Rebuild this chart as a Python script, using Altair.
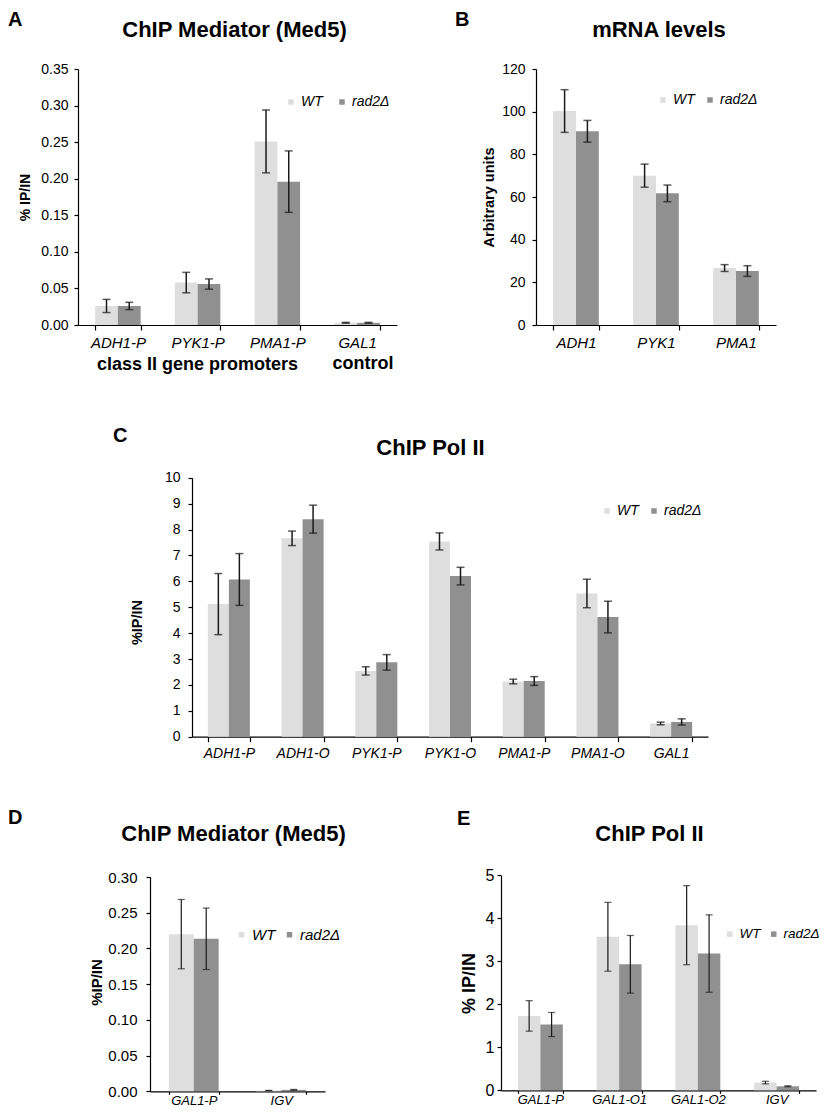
import altair as alt
import pandas as pd

FONT = "Liberation Sans"
GENOTYPES = ["WT", "rad2Δ"]
COLORS = ["#dedede", "#909090"]
INK = "#1a1a1a"

# ---------------- Panel A: ChIP Mediator (Med5) ----------------
a_cats = ["ADH1-P", "PYK1-P", "PMA1-P", "GAL1"]
a_wt = [0.026, 0.058, 0.251, 0.003]
a_wt_err = [0.009, 0.014, 0.043, 0.0006]
a_rad = [0.026, 0.056, 0.196, 0.003]
a_rad_err = [0.005, 0.007, 0.042, 0.0006]
a_ticks = [0.0, 0.05, 0.10, 0.15, 0.20, 0.25, 0.30, 0.35]

# ---------------- Panel B: mRNA levels ----------------
b_cats = ["ADH1", "PYK1", "PMA1"]
b_wt = [100.3, 70.0, 26.7]
b_wt_err = [10.0, 5.4, 1.6]
b_rad = [90.8, 61.7, 25.3]
b_rad_err = [5.1, 3.9, 2.5]
b_ticks = [0, 20, 40, 60, 80, 100, 120]

# ---------------- Panel C: ChIP Pol II ----------------
c_cats = ["ADH1-P", "ADH1-O", "PYK1-P", "PYK1-O", "PMA1-P", "PMA1-O", "GAL1"]
c_wt = [5.12, 7.66, 2.54, 7.54, 2.13, 5.53, 0.51]
c_wt_err = [1.18, 0.28, 0.16, 0.33, 0.09, 0.55, 0.05]
c_rad = [6.07, 8.40, 2.87, 6.20, 2.15, 4.62, 0.57]
c_rad_err = [1.00, 0.54, 0.30, 0.34, 0.17, 0.61, 0.12]
c_ticks = [0, 1, 2, 3, 4, 5, 6, 7, 8, 9, 10]

# ---------------- Panel D: ChIP Mediator (Med5) ----------------
d_cats = ["GAL1-P", "IGV"]
d_wt = [0.220, 0.001]
d_wt_err = [0.0485, 0.0003]
d_rad = [0.2135, 0.002]
d_rad_err = [0.043, 0.0006]
d_ticks = [0.0, 0.05, 0.10, 0.15, 0.20, 0.25, 0.30]

# ---------------- Panel E: ChIP Pol II ----------------
e_cats = ["GAL1-P", "GAL1-O1", "GAL1-O2", "IGV"]
e_wt = [1.73, 3.57, 3.84, 0.18]
e_wt_err = [0.355, 0.80, 0.92, 0.03]
e_rad = [1.53, 2.93, 3.18, 0.093]
e_rad_err = [0.28, 0.67, 0.90, 0.012]
e_ticks = [0, 1, 2, 3, 4, 5]

W, H = 811, 1102  # whole drawing area (page minus the 8px margin)


def text_layer(txt, x, y, size, align="left"):
    return alt.Chart(pd.DataFrame({"t": [txt]})).mark_text(
        font=FONT, fontSize=size, fontWeight="bold",
        align=align, baseline="alphabetic", color="#000"
    ).encode(text="t:N", x=alt.value(x), y=alt.value(y))


def panel(cats, wt, wt_err, rad, rad_err, ymax, yticks, yfmt, p):
    rows = []
    for i, c in enumerate(cats):
        rows.append(dict(cat=c, geno=GENOTYPES[0], val=wt[i],
                         lo=wt[i] - wt_err[i], hi=wt[i] + wt_err[i]))
        rows.append(dict(cat=c, geno=GENOTYPES[1], val=rad[i],
                         lo=rad[i] - rad_err[i], hi=rad[i] + rad_err[i]))
    df = pd.DataFrame(rows)

    x0, x1, yb, yt = p["box"]
    xscale = alt.Scale(domain=cats, range=[x0, x1], paddingInner=0.43, paddingOuter=0.215)
    yscale = alt.Scale(domain=[0, ymax], range=[yb, yt], nice=False, zero=True)
    xaxis = alt.Axis(
        orient="bottom", offset=yb - H,
        title=None, labelAngle=0, labelFont=FONT, labelFontStyle="italic",
        labelFontSize=p["xlab"], labelColor="#000", labelPadding=p["xpad"],
        tickBand="extent", tickSize=p.get("xtick", 5), tickColor="#000", tickWidth=1.2,
        domainColor="#000", domainWidth=1.2, grid=False,
    )
    yaxis = alt.Axis(
        orient="left", offset=-x0,
        values=yticks, format=yfmt, grid=False, title=p["ytitle"],
        titleFont=FONT, titleFontSize=p["ytsize"], titleFontWeight="bold",
        titleColor="#000", titleAngle=-90, titleX=p["tx"], titleY=p["ty"],
        titleAlign="center", titleBaseline="middle",
        labelFont=FONT, labelFontSize=p["ylab"], labelColor="#000",
        labelPadding=p["ypad"], tickSize=4, tickColor="#000", tickWidth=1.2,
        domainColor="#000", domainWidth=1.2,
    )
    x = alt.X("cat:N", sort=cats, scale=xscale, axis=xaxis)
    xo = alt.XOffset("geno:N", sort=GENOTYPES,
                     scale=alt.Scale(domain=GENOTYPES, paddingInner=0, paddingOuter=0))

    base = alt.Chart(df)
    bars = base.mark_bar().encode(
        x=x, xOffset=xo,
        y=alt.Y("val:Q", scale=yscale, axis=yaxis),
        color=alt.Color(
            "geno:N", sort=GENOTYPES,
            scale=alt.Scale(domain=GENOTYPES, range=COLORS),
            legend=alt.Legend(
                title=None, orient="none", legendX=p["lx"], legendY=p["ly"],
                direction="horizontal", symbolType="square", symbolSize=30,
                symbolStrokeWidth=0, labelFont=FONT, labelFontStyle="italic",
                labelFontSize=p["lsize"], labelColor="#000", labelOffset=3,
                columnPadding=p["lcol"], padding=0,
            ),
        ),
    )
    ylo = alt.Y("lo:Q", scale=yscale, axis=yaxis)
    yhi = alt.Y("hi:Q", scale=yscale, axis=yaxis)
    stems = base.mark_rule(color=INK, strokeWidth=p["lw"]).encode(
        x=x, xOffset=xo, y=ylo, y2="hi:Q")
    cap_lo = base.mark_tick(orient="horizontal", color=INK, size=p["cap"],
                            thickness=p["lw"]).encode(x=x, xOffset=xo, y=ylo)
    cap_hi = base.mark_tick(orient="horizontal", color=INK, size=p["cap"],
                            thickness=p["lw"]).encode(x=x, xOffset=xo, y=yhi)
    return alt.layer(bars, stems, cap_lo, cap_hi)


A = panel(a_cats, a_wt, a_wt_err, a_rad, a_rad_err, 0.35, a_ticks, ".2f", dict(
    box=(70, 389, 317, 61),
    xlab=15, xpad=5, ylab=14, ypad=6, ytitle="% IP/IN", ytsize=14, tx=-53, ty=189,
    lx=276, ly=87, lsize=14, lcol=12, lw=1.5, cap=8))

B = panel(b_cats, b_wt, b_wt_err, b_rad, b_rad_err, 120, b_ticks, "d", dict(
    box=(528, 768, 317, 61),
    xlab=15, xpad=5, ylab=14, ypad=7, ytitle="Arbitrary units", ytsize=14.5, tx=-47, ty=189,
    lx=648, ly=85, lsize=14, lcol=8, lw=1.5, cap=8))

C = panel(c_cats, c_wt, c_wt_err, c_rad, c_rad_err, 10, c_ticks, "d", dict(
    box=(184, 700, 728.7, 469.7),
    xlab=14, xpad=5, ylab=14, ypad=8, ytitle="%IP/IN", ytsize=14.5, tx=-54.5, ty=614,
    lx=592, ly=496, lsize=14, lcol=8, lw=1.5, cap=8))

D = panel(d_cats, d_wt, d_wt_err, d_rad, d_rad_err, 0.30, d_ticks, ".2f", dict(
    box=(142, 317, 1083.3, 869),
    xlab=13, xpad=0, xtick=3, ylab=15, ypad=9, ytitle="%IP/IN", ytsize=15, tx=-54, ty=974,
    lx=226, ly=919, lsize=15, lcol=6, lw=1.2, cap=7))

E = panel(e_cats, e_wt, e_wt_err, e_rad, e_rad_err, 5, e_ticks, "d", dict(
    box=(493, 808, 1082.3, 867.3),
    xlab=13, xpad=0, xtick=3, ylab=16, ypad=3, ytitle="% IP/IN", ytsize=18, tx=-32, ty=975,
    lx=715, ly=919, lsize=13.5, lcol=6, lw=1.2, cap=7))

texts = [
    ("A", 0, 18, 20, "left"),
    ("ChIP Mediator (Med5)", 226.5, 29, 22, "center"),
    ("class II gene promoters", 189.5, 362, 18, "center"),
    ("control", 355, 361, 18, "center"),
    ("B", 447, 18, 20, "left"),
    ("mRNA levels", 651, 29, 22, "center"),
    ("C", 105, 434, 20, "left"),
    ("ChIP Pol II", 422.5, 447, 22, "center"),
    ("D", 0, 816, 20, "left"),
    ("ChIP Mediator (Med5)", 225.5, 833, 22, "center"),
    ("E", 449, 817, 20, "left"),
    ("ChIP Pol II", 641.5, 833, 22, "center"),
]
text_layers = [text_layer(*t) for t in texts]

chart = alt.layer(A, B, C, D, E, *text_layers).resolve_scale(
    x="independent", y="independent", xOffset="independent", color="independent"
).resolve_axis(x="independent", y="independent").resolve_legend(
    color="independent"
).properties(
    width=W, height=H, padding=0, autosize=alt.AutoSizeParams(type="none")
).configure(font=FONT, background="white").configure_view(stroke=None)

chart.save("out.html", embed_options={"renderer": "svg", "actions": False})
